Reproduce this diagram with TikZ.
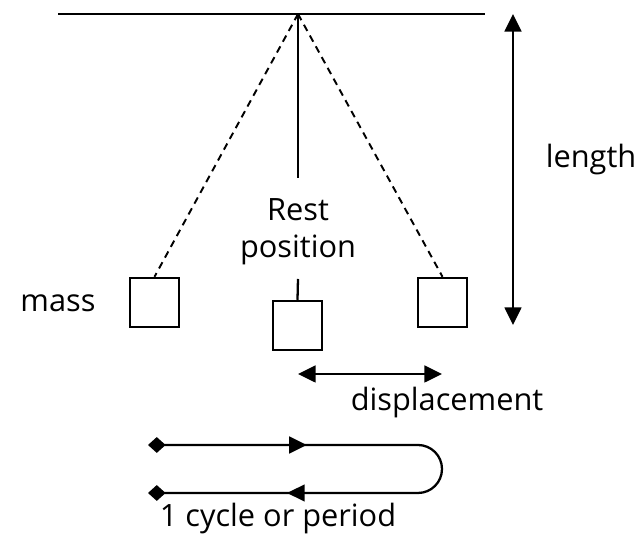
\documentclass[tikz,border=0pt]{standalone}
\usepackage{fontspec}
\setmainfont{Open Sans}
\usetikzlibrary{arrows.meta,decorations.markings}

\tikzset{
  bob/.style={draw,line width=1.4pt,minimum size=0.98cm,inner sep=0pt},
  lbl/.style={font=\fontsize{17.5}{21}\selectfont,inner sep=0pt},
  swing/.style={line width=1.1pt,dash pattern=on 4pt off 3pt},
  ptip/.tip={Triangle[length=10pt,width=9.5pt]},
  dtip/.tip={Diamond[length=10pt,width=9pt]}
}

\begin{document}
\begin{tikzpicture}[x=0.02cm,y=-0.02cm,line width=1.3pt]
  \useasboundingbox (0,0) rectangle (637,536);

  % support and pendulum
  \coordinate (pivot) at (298,14);
  \coordinate (beamL) at (58,14);
  \coordinate (beamR) at (485,14);
  \coordinate (hang) at (298,178);
  \coordinate (hook) at (298,279);

  \node[bob] (left) at (154.5,302.5) {};
  \node[bob] (mid) at (297.5,325.5) {};
  \node[bob] (right) at (442.5,302.5) {};

  \node[lbl] (masslbl) at (58,303) {mass};
  \node[lbl,align=center] (rest) at (298,232) {Rest\\position};
  \node[lbl] (lengthlbl) at (591,160) {length};
  \node[lbl] (displbl) at (447,403) {displacement};
  \node[lbl] (cyclelbl) at (278,519) {1 cycle or period};

  % arrow ends
  \coordinate (lenT) at (513,14);
  \coordinate (lenB) at (513,325);
  \coordinate (dispL) at (298,374);
  \coordinate (dispR) at (442,374);
  \coordinate (cycT) at (148,445);
  \coordinate (cycB) at (148,493);
  \coordinate (turn) at (418,445);

  \draw (beamL) -- (beamR);
  \draw (pivot) -- (hang);
  \draw (hook) -- (mid.north);
  \draw[swing] (pivot) -- (left.north);
  \draw[swing] (pivot) -- (right.north);

  \draw[ptip-ptip] (lenT) -- (lenB);
  \draw[ptip-ptip] (dispL) -- (dispR);

  % one cycle
  \draw[dtip-dtip,postaction={decorate},decoration={markings,
      mark=at position 0.258 with {\arrow{ptip}},
      mark=at position 0.774 with {\arrow{ptip}}}]
    (cycT) -- (turn) arc[start angle=-90,end angle=90,radius=24] -- (cycB);
\end{tikzpicture}
\end{document}
